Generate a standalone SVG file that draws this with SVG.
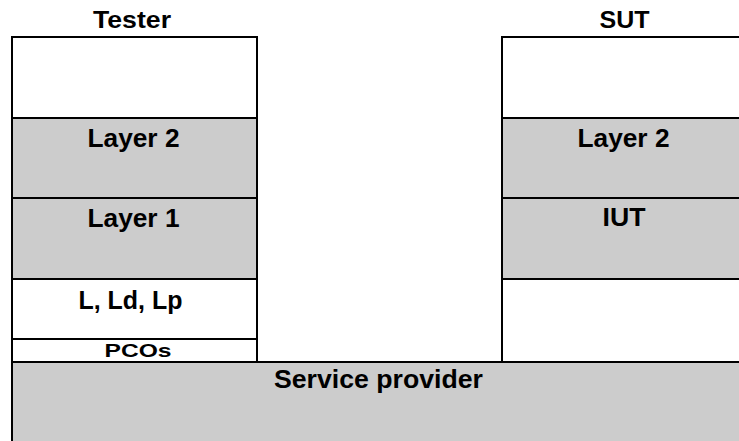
<svg xmlns="http://www.w3.org/2000/svg" width="739" height="441" viewBox="0 0 739 441">
<style>
.box{stroke:#000;stroke-width:2;}
.w{fill:#fff;}
.g{fill:#cccccc;}
text{font-family:"Liberation Sans",Arial,sans-serif;font-weight:bold;fill:#000;text-anchor:middle;}
.h{font-size:23px;}
.l{font-size:26px;}
.s{font-size:19px;}
</style>
<rect x="0" y="0" width="739" height="441" fill="#fff"/>
<g id="tester-title"><text class="h" x="132" y="28" textLength="78" lengthAdjust="spacingAndGlyphs">Tester</text></g>
<g id="sut-title"><text class="h" x="624.5" y="28" textLength="50" lengthAdjust="spacingAndGlyphs">SUT</text></g>

<g id="tester-top"><rect class="box w" x="12" y="37" width="245" height="81"/></g>
<g id="tester-layer2"><rect class="box g" x="12" y="118" width="245" height="80"/><text class="l" x="133.5" y="146.5" textLength="92" lengthAdjust="spacingAndGlyphs">Layer 2</text></g>
<g id="tester-layer1"><rect class="box g" x="12" y="198" width="245" height="81"/><text class="l" x="133.5" y="226.5" textLength="92" lengthAdjust="spacingAndGlyphs">Layer 1</text></g>
<g id="tester-l"><rect class="box w" x="12" y="279" width="245" height="60"/><text class="l" x="130.5" y="309" textLength="104" lengthAdjust="spacingAndGlyphs">L, Ld, Lp</text></g>
<g id="tester-pcos"><rect class="box w" x="12" y="339" width="245" height="23"/><text class="s" x="138" y="356.7" textLength="67" lengthAdjust="spacingAndGlyphs">PCOs</text></g>

<g id="sut-top"><rect class="box w" x="502" y="37" width="250" height="81"/></g>
<g id="sut-layer2"><rect class="box g" x="502" y="118" width="250" height="80"/><text class="l" x="623.5" y="146.5" textLength="92" lengthAdjust="spacingAndGlyphs">Layer 2</text></g>
<g id="sut-iut"><rect class="box g" x="502" y="198" width="250" height="81"/><text class="l" x="624" y="226" textLength="43" lengthAdjust="spacingAndGlyphs">IUT</text></g>
<g id="sut-bottom"><rect class="box w" x="502" y="279" width="250" height="83"/></g>

<g id="service-provider"><rect class="box g" x="12" y="362" width="740" height="90"/><text class="l" x="378.5" y="388" textLength="209" lengthAdjust="spacingAndGlyphs">Service provider</text></g>
<g id="connectors"></g>
</svg>
